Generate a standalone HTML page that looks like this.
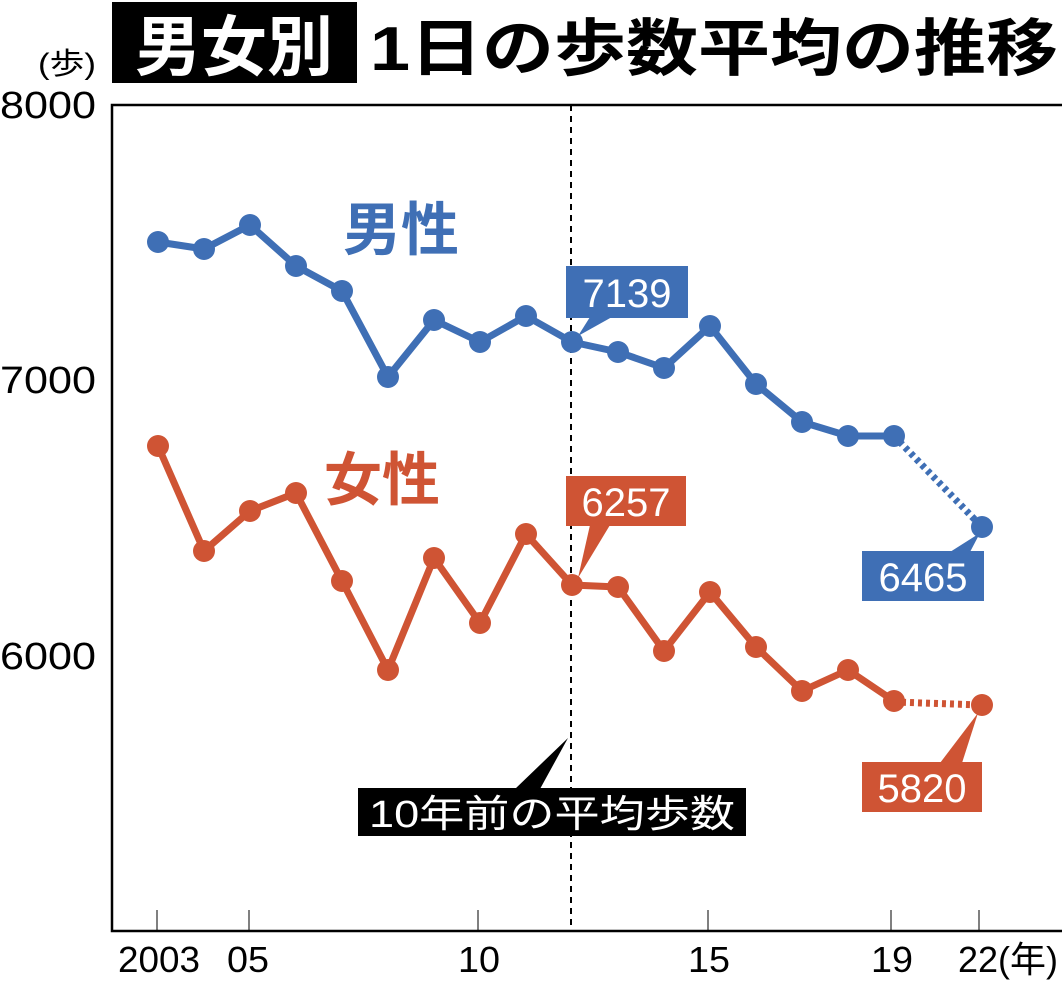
<!DOCTYPE html>
<html><head><meta charset="utf-8"><style>
html,body{margin:0;padding:0;background:#fff;}
body{width:1062px;height:980px;overflow:hidden;}
svg text{font-family:"Liberation Sans","Noto Sans CJK JP",sans-serif;}
</style></head><body>
<svg width="1062" height="980" viewBox="0 0 1062 980" xmlns="http://www.w3.org/2000/svg">
<rect x="112" y="2" width="245" height="81" fill="#000"/>
<text x="234" y="70" font-size="66" font-weight="bold" fill="#fff" text-anchor="middle">男女別</text>
<text x="370" y="70" font-size="62" font-weight="bold" fill="#000" textLength="688" lengthAdjust="spacingAndGlyphs">1日の歩数平均の推移</text>
<text x="38" y="74" font-size="30" fill="#000" textLength="58" lengthAdjust="spacingAndGlyphs">(歩)</text>
<text x="0" y="118" font-size="38" fill="#000" textLength="96" lengthAdjust="spacingAndGlyphs">8000</text>
<text x="0" y="393" font-size="38" fill="#000" textLength="96" lengthAdjust="spacingAndGlyphs">7000</text>
<text x="0" y="669" font-size="38" fill="#000" textLength="96" lengthAdjust="spacingAndGlyphs">6000</text>
<path d="M1062 105 H112 V931 H1062" fill="none" stroke="#000" stroke-width="2.5"/>
<g stroke="#000" stroke-width="1">
<line x1="157" y1="910" x2="157" y2="931"/><line x1="249" y1="910" x2="249" y2="931"/>
<line x1="478" y1="910" x2="478" y2="931"/><line x1="708" y1="910" x2="708" y2="931"/>
<line x1="891" y1="910" x2="891" y2="931"/><line x1="979" y1="910" x2="979" y2="931"/>
</g>
<g font-size="36" fill="#000">
<text x="118" y="972" textLength="82" lengthAdjust="spacingAndGlyphs">2003</text>
<text x="227" y="972" textLength="42" lengthAdjust="spacingAndGlyphs">05</text>
<text x="458" y="972" textLength="42" lengthAdjust="spacingAndGlyphs">10</text>
<text x="688" y="972" textLength="42" lengthAdjust="spacingAndGlyphs">15</text>
<text x="871" y="972" textLength="42" lengthAdjust="spacingAndGlyphs">19</text>
<text x="958" y="972" textLength="100" lengthAdjust="spacingAndGlyphs">22(年)</text>
</g>
<line x1="571" y1="105" x2="571" y2="931" stroke="#000" stroke-width="2" stroke-dasharray="6,5"/>
<polyline fill="none" stroke="#3f6fb5" stroke-width="7" stroke-linejoin="round" points="158,242 204,249 250,225 296,266 342,291 388,377 434,320 480,342 526,316 572,342 618,352 664,368 710,326 756,384 802,422 848,436 894,436"/>
<line x1="894" y1="436" x2="982" y2="527" stroke="#3f6fb5" stroke-width="7" stroke-dasharray="4,4"/>
<g fill="#3f6fb5">
<circle cx="158" cy="242" r="11"/><circle cx="204" cy="249" r="11"/><circle cx="250" cy="225" r="11"/><circle cx="296" cy="266" r="11"/><circle cx="342" cy="291" r="11"/><circle cx="388" cy="377" r="11"/><circle cx="434" cy="320" r="11"/><circle cx="480" cy="342" r="11"/><circle cx="526" cy="316" r="11"/><circle cx="572" cy="342" r="11"/><circle cx="618" cy="352" r="11"/><circle cx="664" cy="368" r="11"/><circle cx="710" cy="326" r="11"/><circle cx="756" cy="384" r="11"/><circle cx="802" cy="422" r="11"/><circle cx="848" cy="436" r="11"/><circle cx="894" cy="436" r="11"/><circle cx="982" cy="527" r="11"/>
</g>
<polyline fill="none" stroke="#cf5434" stroke-width="7" stroke-linejoin="round" points="158,446 204,551 250,511 296,493 342,581 388,670 434,558 480,623 526,534 572,585 618,587 664,651 710,592 756,647 802,691 848,670 894,701"/>
<line x1="894" y1="702" x2="982" y2="705" stroke="#cf5434" stroke-width="7" stroke-dasharray="4,4"/>
<g fill="#cf5434">
<circle cx="158" cy="446" r="11"/><circle cx="204" cy="551" r="11"/><circle cx="250" cy="511" r="11"/><circle cx="296" cy="493" r="11"/><circle cx="342" cy="581" r="11"/><circle cx="388" cy="670" r="11"/><circle cx="434" cy="558" r="11"/><circle cx="480" cy="623" r="11"/><circle cx="526" cy="534" r="11"/><circle cx="572" cy="585" r="11"/><circle cx="618" cy="587" r="11"/><circle cx="664" cy="651" r="11"/><circle cx="710" cy="592" r="11"/><circle cx="756" cy="647" r="11"/><circle cx="802" cy="691" r="11"/><circle cx="848" cy="670" r="11"/><circle cx="894" cy="701" r="11"/><circle cx="982" cy="705" r="11"/>
</g>
<text x="343" y="250" font-size="58" font-weight="bold" fill="#3f6fb5">男性</text>
<text x="324" y="500" font-size="58" font-weight="bold" fill="#cf5434">女性</text>
<rect x="566" y="266" width="122" height="52" fill="#3f6fb5"/>
<polygon points="590,317 612,317 578,336" fill="#3f6fb5"/>
<text x="627" y="307" font-size="40" fill="#fff" text-anchor="middle">7139</text>
<rect x="566" y="476" width="120" height="50" fill="#cf5434"/>
<polygon points="590,525 610,525 578,578" fill="#cf5434"/>
<text x="626" y="516" font-size="40" fill="#fff" text-anchor="middle">6257</text>
<rect x="862" y="551" width="122" height="50" fill="#3f6fb5"/>
<polygon points="950,552 970,552 980,533" fill="#3f6fb5"/>
<text x="923" y="591" font-size="40" fill="#fff" text-anchor="middle">6465</text>
<rect x="862" y="762" width="120" height="50" fill="#cf5434"/>
<polygon points="940,763 962,763 978,713" fill="#cf5434"/>
<text x="922" y="802" font-size="40" fill="#fff" text-anchor="middle">5820</text>
<rect x="358" y="788" width="388" height="48" fill="#000"/>
<polygon points="515,789 540,789 568,738" fill="#000"/>
<text x="552" y="827" font-size="38" fill="#fff" text-anchor="middle" textLength="366" lengthAdjust="spacingAndGlyphs">10年前の平均歩数</text>
</svg>
</body></html>
